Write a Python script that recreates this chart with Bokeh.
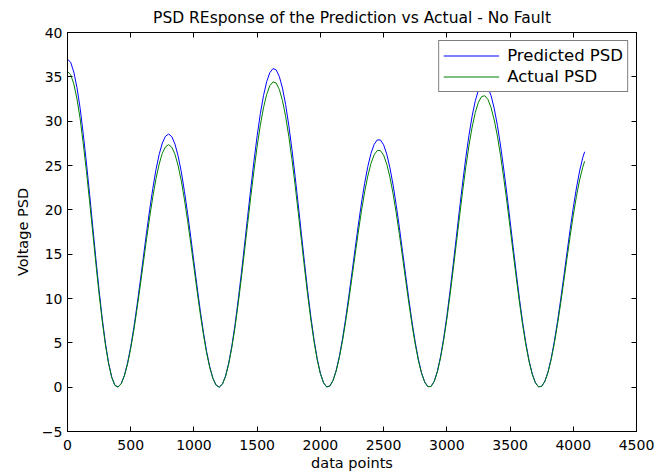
from bokeh.plotting import figure
from bokeh.models import LinearAxis, Range1d, SingleIntervalTicker, Legend, LegendItem
from bokeh.embed import file_html
from bokeh.resources import INLINE

# sample positions (data points)
x_points = list(range(0, 4076, 25)) + [4090]

predicted_psd = [
    37.00, 36.63, 35.54, 33.78, 31.45, 28.51, 25.27, 21.73, 18.06, 14.40,
    10.90, 7.71, 4.96, 2.73, 1.13, 0.21, 0.02, 0.41, 1.33, 2.73,
    4.56, 6.74, 9.24, 11.91, 14.66, 17.41, 20.03, 22.44, 24.55, 26.26,
    27.53, 28.30, 28.55, 28.25, 27.41, 26.06, 24.29, 22.06, 19.60, 16.90,
    14.10, 11.32, 8.64, 6.19, 4.04, 2.30, 1.01, 0.23, 0.00, 0.34,
    1.26, 2.72, 4.68, 7.07, 9.83, 12.84, 16.03, 19.27, 22.48, 25.53,
    28.35, 30.84, 32.87, 34.44, 35.47, 35.93, 35.79, 35.05, 33.73, 31.88,
    29.54, 26.81, 23.79, 20.56, 17.25, 13.96, 10.79, 7.90, 5.34, 3.20,
    1.57, 0.50, 0.03, 0.14, 0.77, 1.90, 3.48, 5.45, 7.76, 10.27,
    12.95, 15.65, 18.29, 20.77, 23.00, 24.88, 26.36, 27.38, 27.89, 27.88,
    27.33, 26.28, 24.74, 22.79, 20.51, 17.98, 15.29, 12.55, 9.87, 7.34,
    5.07, 3.14, 1.62, 0.59, 0.06, 0.08, 0.66, 1.79, 3.42, 5.52,
    7.98, 10.80, 13.79, 16.90, 20.02, 23.04, 25.87, 28.40, 30.56, 32.30,
    33.50, 34.17, 34.27, 33.83, 32.87, 31.41, 29.52, 27.22, 24.60, 21.78,
    18.79, 15.75, 12.76, 9.89, 7.27, 4.96, 3.02, 1.53, 0.52, 0.04,
    0.09, 0.66, 1.72, 3.23, 5.14, 7.38, 9.84, 12.46, 15.14, 17.76,
    20.23, 22.46, 24.37, 25.89, 26.55,
]

actual_psd = [
    35.60, 35.25, 34.20, 32.50, 30.26, 27.43, 24.32, 20.91, 17.38, 13.86,
    10.48, 7.42, 4.77, 2.63, 1.08, 0.20, 0.01, 0.39, 1.27, 2.61,
    4.37, 6.46, 8.85, 11.41, 14.05, 16.68, 19.18, 21.49, 23.52, 25.16,
    26.38, 27.11, 27.35, 27.06, 26.26, 24.97, 23.27, 21.13, 18.77, 16.19,
    13.51, 10.84, 8.27, 5.93, 3.87, 2.20, 0.97, 0.22, 0.00, 0.33,
    1.21, 2.61, 4.49, 6.77, 9.42, 12.30, 15.36, 18.47, 21.54, 24.46,
    27.17, 29.55, 31.50, 33.00, 33.99, 34.43, 34.30, 33.59, 32.32, 30.55,
    28.30, 25.69, 22.79, 19.70, 16.53, 13.37, 10.34, 7.57, 5.11, 3.07,
    1.51, 0.48, 0.02, 0.13, 0.74, 1.82, 3.33, 5.22, 7.42, 9.83,
    12.39, 14.98, 17.51, 19.88, 22.02, 23.81, 25.23, 26.20, 26.69, 26.68,
    26.16, 25.15, 23.68, 21.81, 19.63, 17.21, 14.63, 12.01, 9.44, 7.02,
    4.85, 3.00, 1.55, 0.56, 0.06, 0.07, 0.63, 1.71, 3.28, 5.30,
    7.66, 10.36, 13.23, 16.21, 19.20, 22.10, 24.82, 27.24, 29.32, 30.98,
    32.13, 32.77, 32.87, 32.45, 31.52, 30.12, 28.31, 26.11, 23.60, 20.89,
    18.03, 15.11, 12.24, 9.49, 6.97, 4.76, 2.90, 1.47, 0.50, 0.04,
    0.09, 0.63, 1.65, 3.10, 4.92, 7.07, 9.43, 11.94, 14.51, 17.02,
    19.39, 21.52, 23.36, 24.81, 25.48,
]

series_labels = ["Predicted PSD", "Actual PSD"]
title_text = "PSD REsponse of the Prediction vs Actual - No Fault"
x_label = "data points"
y_label = "Voltage PSD"

FONT = "DejaVu Sans"

p = figure(width=668, height=473, output_backend="svg", toolbar_location=None,
           x_range=Range1d(0, 4500), y_range=Range1d(-5, 40),
           min_border_left=67, min_border_right=32, min_border_top=32, min_border_bottom=42,
           x_axis_location=None, y_axis_location=None)

p.title.text = title_text
p.title.align = "center"
p.title.text_font = FONT
p.title.text_font_size = "15.5px"
p.title.text_font_style = "normal"
p.title.text_color = "#000000"
p.title.standoff = 12

p.xgrid.visible = False
p.ygrid.visible = False
p.outline_line_color = "#000000"
p.outline_line_width = 1
p.background_fill_color = "#ffffff"
p.border_fill_color = "#ffffff"

def make_axis(ticker, show_labels, label=None, label_standoff=5, title_standoff=4):
    ax = LinearAxis(ticker=ticker)
    ax.major_tick_in = 5
    ax.major_tick_out = 0
    ax.minor_tick_in = 0
    ax.minor_tick_out = 0
    ax.axis_line_color = "#000000"
    ax.major_tick_line_color = "#000000"
    ax.major_label_text_font = FONT
    ax.major_label_text_font_size = "14px"
    ax.major_label_text_color = "#000000"
    ax.major_label_standoff = label_standoff
    if not show_labels:
        ax.major_label_text_alpha = 0
        ax.major_label_text_font_size = "1px"
        ax.major_label_standoff = 0
    if label:
        ax.axis_label = label
        ax.axis_label_text_font = FONT
        ax.axis_label_text_font_size = "14.5px"
        ax.axis_label_text_font_style = "normal"
        ax.axis_label_text_color = "#000000"
        ax.axis_label_standoff = title_standoff
    return ax

xt = SingleIntervalTicker(interval=500, num_minor_ticks=0)
yt = SingleIntervalTicker(interval=5, num_minor_ticks=0)

p.add_layout(make_axis(xt, True, x_label, label_standoff=8, title_standoff=2), "below")
p.add_layout(make_axis(yt, True, y_label, label_standoff=5, title_standoff=8), "left")
p.add_layout(make_axis(SingleIntervalTicker(interval=500, num_minor_ticks=0), False), "above")
p.add_layout(make_axis(SingleIntervalTicker(interval=5, num_minor_ticks=0), False), "right")

r1 = p.line(x_points, predicted_psd, line_color="#0000ff", line_width=1)
r2 = p.line(x_points, actual_psd, line_color="#008000", line_width=1)

legend = Legend(items=[LegendItem(label=series_labels[0], renderers=[r1]),
                       LegendItem(label=series_labels[1], renderers=[r2])],
                location="top_right")
legend.label_text_font = FONT
legend.label_text_font_size = "16.5px"
legend.label_text_color = "#000000"
legend.border_line_color = "#000000"
legend.border_line_width = 1
legend.background_fill_color = "#ffffff"
legend.background_fill_alpha = 1
legend.glyph_width = 56
legend.glyph_height = 21
legend.label_height = 21
legend.spacing = 0
legend.padding = 4
legend.margin = 8
legend.label_standoff = 8
p.add_layout(legend, "center")

open("out.html", "w").write(file_html(p, INLINE))
